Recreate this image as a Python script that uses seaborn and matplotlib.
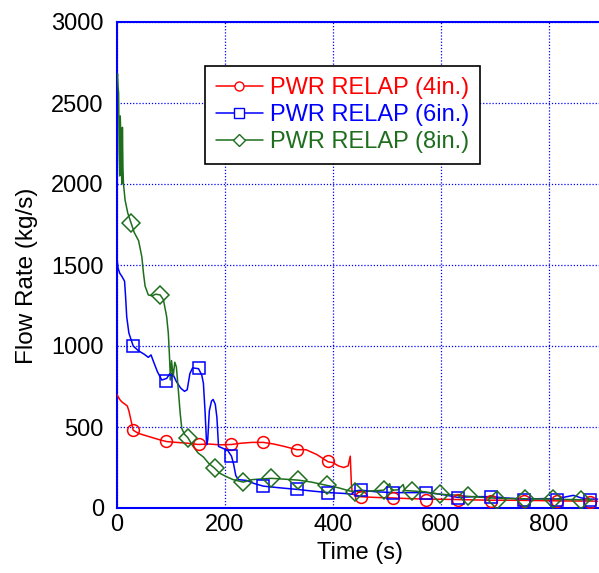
import numpy as np
import pandas as pd
import seaborn as sns
import matplotlib
matplotlib.use("Agg")
import matplotlib.pyplot as plt
from matplotlib.lines import Line2D

# --- data ---
red_t = [0, 5, 9, 15, 19, 22, 26, 30, 40, 60, 80, 92, 110, 130, 151, 170, 190, 212, 230, 250,
         271, 290, 310, 333, 350, 370, 391, 400, 410, 420, 428, 432, 434, 436, 450, 480, 511,
         540, 573, 600, 631, 660, 692, 720, 754, 780, 815, 850, 874, 890]
red_v = [700, 670, 655, 640, 630, 600, 540, 480, 460, 440, 420, 410, 405, 400, 392, 395, 390,
         392, 400, 405, 405, 395, 380, 360, 360, 330, 285, 280, 260, 250, 260, 320, 150, 85,
         70, 65, 62, 58, 55, 54, 52, 50, 48, 48, 47, 46, 44, 43, 43, 42]

blue_t = [0, 2, 5, 9, 14, 16, 18, 22, 30, 40, 50, 58, 63, 68, 75, 83, 92, 98, 103, 110, 118,
          125, 130, 135, 140, 151, 157, 160, 163, 166, 168, 171, 175, 178, 182, 185, 188, 195,
          205, 212, 216, 220, 225, 240, 255, 271, 300, 333, 360, 391, 420, 435, 440, 452, 480,
          512, 540, 573, 600, 632, 660, 693, 720, 754, 790, 815, 830, 845, 860, 875, 890]
blue_v = [1540, 1480, 1450, 1430, 1400, 1300, 1180, 1080, 1000, 970, 950, 930, 945, 900, 840,
          790, 800, 830, 830, 780, 740, 720, 730, 830, 865, 860, 820, 770, 600, 390, 420, 600,
          660, 670, 640, 560, 380, 370, 355, 320, 270, 200, 175, 170, 150, 135, 125, 115, 105,
          95, 90, 85, 105, 110, 100, 95, 95, 95, 85, 65, 70, 70, 62, 55, 58, 55, 68, 78, 62,
          55, 55]

green_t = [0, 1, 2, 3, 4, 5, 6, 7, 8, 9, 10, 11, 12, 15, 20, 26, 32, 40, 46, 49, 52, 58, 65,
           72, 80, 86, 92, 95, 97, 98, 99, 101, 104, 107, 110, 114, 117, 120, 125, 131, 141,
           150, 160, 170, 181, 190, 203, 215, 234, 250, 270, 286, 310, 336, 360, 388, 410, 431,
           450, 470, 494, 505, 508, 520, 530, 533, 546, 570, 598, 625, 650, 680, 703, 730, 760,
           800, 840, 880]
green_v = [2650, 2680, 2600, 2560, 2200, 2050, 2420, 2300, 2100, 2000, 2350, 2100, 2000, 1900,
           1820, 1760, 1700, 1650, 1550, 1450, 1370, 1315, 1310, 1320, 1315, 1285, 1180, 1080,
           950, 870, 790, 910, 810, 900, 870, 710, 585, 490, 455, 435, 380, 340, 315, 275, 245,
           215, 193, 175, 160, 175, 180, 183, 178, 172, 160, 140, 125, 105, 100, 105, 110, 150,
           110, 112, 145, 108, 105, 100, 85, 80, 72, 65, 60, 58, 57, 55, 52, 50]

# marker positions (time, value)
red_mt = [30, 91, 151, 212, 271, 333, 391, 452, 512, 573, 632, 693, 754, 815, 875]
red_mv = [480, 412, 392, 392, 405, 360, 288, 65, 60, 52, 50, 45, 45, 42, 40]
blue_mt = [30, 91, 151, 212, 271, 333, 391, 452, 512, 573, 632, 693, 754, 815, 875]
blue_mv = [1000, 785, 862, 320, 135, 115, 95, 112, 92, 95, 62, 70, 52, 52, 52]
green_mt = [26, 80, 131, 181, 234, 286, 336, 388, 440, 494, 546, 598, 650, 703, 755, 807, 859]
green_mv = [1760, 1315, 435, 245, 160, 183, 172, 140, 100, 110, 105, 85, 72, 50, 57, 55, 51]

labels = ["PWR RELAP (4in.)", "PWR RELAP (6in.)", "PWR RELAP (8in.)"]
colors = ["#ff0000", "#0000ff", "#1e6e1e"]
markers = ["o", "s", "D"]
msizes = [8.5, 8.5, 9]

series = [(red_t, red_v, red_mt, red_mv),
          (blue_t, blue_v, blue_mt, blue_mv),
          (green_t, green_v, green_mt, green_mv)]

sns.set_style("white")
plt.rcParams["font.family"] = ["Liberation Sans", "DejaVu Sans"]
plt.rcParams["axes.labelcolor"] = "black"

fig = plt.figure(figsize=(5.99, 5.73), dpi=100)
# right spine sits just past the image edge, as in the reference
ax = fig.add_axes([117 / 599, 65 / 573, 486 / 599, 486 / 573])

for (t, v, mt, mv), lab, c, m, ms in zip(series, labels, colors, markers, msizes):
    df = pd.DataFrame({"t": t, "v": v})
    sns.lineplot(data=df, x="t", y="v", color=c, linewidth=1.1, sort=False,
                 estimator=None, ax=ax, zorder=3)
    ax.plot(mt, mv, linestyle="none", marker=m, markersize=ms, markerfacecolor="none",
            markeredgecolor=c, markeredgewidth=1.1, zorder=4)

ax.set_xlim(0, 900)
ax.set_ylim(0, 3000)
ax.set_xticks([0, 200, 400, 600, 800])
ax.set_yticks([0, 500, 1000, 1500, 2000, 2500, 3000])
ax.grid(True, color="#0000ff", linestyle=(0, (1, 1.5)), linewidth=0.9)
for s in ax.spines.values():
    s.set_color("#0000ff")
    s.set_linewidth(1.5)
ax.tick_params(direction="in", length=6, width=1.5, color="#0000ff",
               labelsize=17, labelcolor="black")
ax.tick_params(axis="x", pad=4)
ax.tick_params(axis="y", pad=9.5)
ax.set_xlabel("Time (s)", fontsize=17, color="black")
ax.set_ylabel("Flow Rate (kg/s)", fontsize=17.5, color="black")
ax.xaxis.set_label_coords(0.5, -0.07)
ax.yaxis.set_label_coords(-0.162, 0.477)

handles = [Line2D([], [], color=c, marker=m, markersize=6.5, markerfacecolor="white",
                  markeredgecolor=c, linewidth=1.1) for c, m in zip(colors, markers)]
leg = ax.legend(handles, labels, loc="upper left", bbox_to_anchor=(0.181, 0.909),
                fontsize=17, frameon=True, fancybox=False, edgecolor="black",
                framealpha=1, handlelength=2.0, handletextpad=0.3, labelspacing=0.22,
                borderpad=0.45, borderaxespad=0)
leg.get_frame().set_linewidth(1.2)
for txt, c in zip(leg.get_texts(), colors):
    txt.set_color(c)

fig.savefig("out.png", dpi=100)
